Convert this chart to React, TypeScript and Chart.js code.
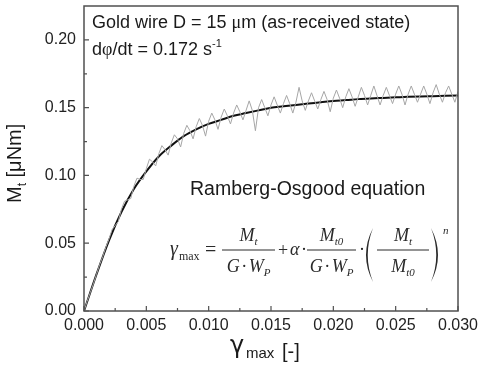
import React, { useEffect, useRef } from 'react';
import { Chart, registerables } from 'chart.js';

Chart.register(...registerables);

// Ramberg-Osgood fit (black curve)
const fitStrain = [0, 0.001, 0.002, 0.003, 0.004, 0.005, 0.006, 0.007, 0.008, 0.009, 0.01, 0.011, 0.012, 0.013, 0.014, 0.015, 0.016, 0.017, 0.018, 0.019, 0.02, 0.021, 0.022, 0.023, 0.024, 0.025, 0.026, 0.027, 0.028, 0.029, 0.03];
const fitTorque = [0, 0.027, 0.052, 0.073, 0.09, 0.103, 0.114, 0.122, 0.129, 0.134, 0.138, 0.141, 0.144, 0.146, 0.148, 0.15, 0.151, 0.152, 0.153, 0.154, 0.155, 0.1556, 0.1563, 0.1568, 0.1572, 0.1576, 0.158, 0.1583, 0.1585, 0.1587, 0.1589];

// measured (gray, noisy)
const measStrain = [0, 0.00025, 0.0005, 0.00075, 0.001, 0.00125, 0.0015, 0.00175, 0.002, 0.00225, 0.0025, 0.00275, 0.003, 0.00325, 0.0035, 0.00375, 0.004, 0.00425, 0.0045, 0.00475, 0.005, 0.00525, 0.0055, 0.00575, 0.006, 0.00625, 0.0065, 0.00675, 0.007, 0.00725, 0.0075, 0.00775, 0.008, 0.00825, 0.0085, 0.00875, 0.009, 0.00925, 0.0095, 0.00975, 0.01, 0.01025, 0.0105, 0.01075, 0.011, 0.01125, 0.0115, 0.01175, 0.012, 0.01225, 0.0125, 0.01275, 0.013, 0.01325, 0.0135, 0.01375, 0.014, 0.01425, 0.0145, 0.01475, 0.015, 0.01525, 0.0155, 0.01575, 0.016, 0.01625, 0.0165, 0.01675, 0.017, 0.01725, 0.0175, 0.01775, 0.018, 0.01825, 0.0185, 0.01875, 0.019, 0.01925, 0.0195, 0.01975, 0.02, 0.02025, 0.0205, 0.02075, 0.021, 0.02125, 0.0215, 0.02175, 0.022, 0.02225, 0.0225, 0.02275, 0.023, 0.02325, 0.0235, 0.02375, 0.024, 0.02425, 0.0245, 0.02475, 0.025, 0.02525, 0.0255, 0.02575, 0.026, 0.02625, 0.0265, 0.02675, 0.027, 0.02725, 0.0275, 0.02775, 0.028, 0.02825, 0.0285, 0.02875, 0.029, 0.02925, 0.0295, 0.02975, 0.03];
const measTorque = [0, 0.007, 0.0135, 0.02, 0.027, 0.034, 0.04, 0.047, 0.053, 0.06, 0.063, 0.066, 0.075, 0.081, 0.082, 0.083, 0.092, 0.098, 0.097, 0.097, 0.105, 0.112, 0.11, 0.107, 0.116, 0.122, 0.119, 0.115, 0.124, 0.13, 0.127, 0.121, 0.131, 0.137, 0.133, 0.127, 0.136, 0.142, 0.137, 0.129, 0.14, 0.146, 0.141, 0.134, 0.143, 0.149, 0.144, 0.138, 0.146, 0.152, 0.147, 0.141, 0.148, 0.155, 0.148, 0.133, 0.15, 0.156, 0.15, 0.144, 0.152, 0.158, 0.152, 0.146, 0.153, 0.159, 0.153, 0.146, 0.154, 0.165, 0.155, 0.148, 0.155, 0.161, 0.155, 0.149, 0.156, 0.162, 0.156, 0.147, 0.157, 0.163, 0.157, 0.15, 0.158, 0.164, 0.158, 0.151, 0.158, 0.165, 0.159, 0.152, 0.159, 0.166, 0.159, 0.152, 0.159, 0.165, 0.159, 0.153, 0.16, 0.166, 0.16, 0.152, 0.16, 0.166, 0.16, 0.154, 0.16, 0.166, 0.16, 0.153, 0.161, 0.167, 0.16, 0.154, 0.161, 0.166, 0.16, 0.154, 0.162];

const xTicks = [0, 0.005, 0.01, 0.015, 0.02, 0.025, 0.03];
const xMinorTicks = [0.0025, 0.0075, 0.0125, 0.0175, 0.0225, 0.0275];
const yTicks = [0, 0.05, 0.1, 0.15, 0.2];
const yMinorTicks = [0.025, 0.075, 0.125, 0.175];

const SANS = '"Liberation Sans", Arial, sans-serif';
const SERIF = '"Liberation Serif", "Times New Roman", serif';

type Part = { t: string; f: string; dy?: number; pad?: number };

function seq(ctx: CanvasRenderingContext2D, x: number, y: number, parts: Part[]) {
  let cx = x;
  for (const p of parts) {
    ctx.font = p.f;
    cx += p.pad || 0;
    ctx.fillText(p.t, cx, y + (p.dy || 0));
    cx += ctx.measureText(p.t).width + (p.pad || 0);
  }
  return cx;
}
function seqWidth(ctx: CanvasRenderingContext2D, parts: Part[]) {
  let w = 0;
  for (const p of parts) {
    ctx.font = p.f;
    w += ctx.measureText(p.t).width + 2 * (p.pad || 0);
  }
  return w;
}

const decor = {
  id: 'decor',
  afterDraw(chart: any) {
    const { ctx, chartArea: a, scales } = chart;
    const xs = scales.x;
    const ys = scales.y;
    ctx.save();
    // frame
    ctx.strokeStyle = '#505050';
    ctx.lineWidth = 1.5;
    ctx.strokeRect(a.left, a.top, a.right - a.left, a.bottom - a.top);
    // ticks (inside)
    ctx.lineWidth = 1.2;
    ctx.beginPath();
    for (const v of xTicks) {
      const p = xs.getPixelForValue(v);
      ctx.moveTo(p, a.bottom); ctx.lineTo(p, a.bottom - 5);
    }
    for (const v of xMinorTicks) {
      const p = xs.getPixelForValue(v);
      ctx.moveTo(p, a.bottom); ctx.lineTo(p, a.bottom - 3);
    }
    for (const v of yTicks) {
      const p = ys.getPixelForValue(v);
      ctx.moveTo(a.left, p); ctx.lineTo(a.left + 5, p);
    }
    for (const v of yMinorTicks) {
      const p = ys.getPixelForValue(v);
      ctx.moveTo(a.left, p); ctx.lineTo(a.left + 3, p);
    }
    ctx.stroke();

    // annotations
    ctx.fillStyle = '#1a1a1a';
    ctx.textBaseline = 'alphabetic';
    ctx.textAlign = 'left';
    const s18 = `18px ${SANS}`;
    const r18 = `18px ${SERIF}`;
    seq(ctx, 92, 28, [
      { t: 'Gold wire D = 15 ', f: s18 },
      { t: 'μ', f: r18 },
      { t: 'm (as-received state)', f: s18 },
    ]);
    seq(ctx, 92, 55, [
      { t: 'd', f: s18 },
      { t: 'φ', f: r18 },
      { t: '/dt = 0.172 s', f: s18 },
      { t: '-1', f: `11px ${SANS}`, dy: -8 },
    ]);
    ctx.font = `19.5px ${SANS}`;
    ctx.fillText('Ramberg-Osgood equation', 190, 195);

    // formula
    ctx.fillStyle = '#2a2a2a';
    ctx.strokeStyle = '#2a2a2a';
    const FI = `italic 18px ${SERIF}`;
    const FR = `18px ${SERIF}`;
    const SI = `italic 11px ${SERIF}`;
    const SR = `12px ${SERIF}`;
    const barY = 250;
    seq(ctx, 170, 255, [
      { t: 'γ', f: `italic 20px ${SERIF}` },
      { t: 'max', f: SR, dy: 5, pad: 1 },
    ]);
    ctx.font = `20px ${SERIF}`; ctx.fillText('=', 205, 256);
    const frac = (x1: number, x2: number, num: Part[], den: Part[]) => {
      ctx.lineWidth = 1;
      ctx.beginPath(); ctx.moveTo(x1, barY); ctx.lineTo(x2, barY); ctx.stroke();
      const c = (x1 + x2) / 2;
      seq(ctx, c - seqWidth(ctx, num) / 2, 241, num);
      seq(ctx, c - seqWidth(ctx, den) / 2, 272, den);
    };
    const Mt: Part[] = [{ t: 'M', f: FI }, { t: 't', f: SI, dy: 4 }];
    const Mt0: Part[] = [{ t: 'M', f: FI }, { t: 't0', f: SI, dy: 4 }];
    const GW: Part[] = [{ t: 'G', f: FI }, { t: '·', f: FR, pad: 1.5 }, { t: 'W', f: FI }, { t: 'P', f: SI, dy: 4 }];
    frac(222, 275, Mt, GW);
    ctx.font = FR; ctx.fillText('+', 278, 256);
    ctx.font = FI; ctx.fillText('α', 290, 255);
    ctx.font = FR; ctx.fillText('·', 301, 255);
    frac(307, 356, Mt0, GW);
    ctx.font = FR; ctx.fillText('·', 359, 255);
    // parentheses
    ctx.beginPath();
    ctx.moveTo(373, 228); ctx.quadraticCurveTo(359, 255, 373, 282);
    ctx.quadraticCurveTo(362.5, 255, 373, 228); ctx.fill();
    ctx.beginPath();
    ctx.moveTo(431, 228); ctx.quadraticCurveTo(445, 255, 431, 282);
    ctx.quadraticCurveTo(441.5, 255, 431, 228); ctx.fill();
    frac(377, 429, Mt, Mt0);
    ctx.font = SI; ctx.fillText('n', 443, 234);

    // axis titles
    ctx.fillStyle = '#1a1a1a';
    ctx.save();
    ctx.translate(21, 203);
    ctx.rotate(-Math.PI / 2);
    seq(ctx, 0, 0, [
      { t: 'M', f: `20px ${SANS}` },
      { t: 't', f: `12px ${SANS}`, dy: 5 },
      { t: ' [μNm]', f: `20px ${SANS}` },
    ]);
    ctx.restore();
    ctx.font = `24px "DejaVu Sans", ${SANS}`; ctx.fillText('γ', 230, 353);
    ctx.font = `15px ${SANS}`; ctx.fillText('max', 246, 358);
    ctx.font = `20px ${SANS}`; ctx.fillText('[-]', 282, 358);
    ctx.restore();
  },
};

export default function App() {
  const ref = useRef<HTMLCanvasElement | null>(null);
  useEffect(() => {
    if (!ref.current) return;
    const chart = new Chart(ref.current, {
      type: 'line',
      data: {
        datasets: [
          {
            label: 'measured',
            data: measStrain.map((x, i) => ({ x, y: measTorque[i] })),
            borderColor: '#a6a6a6',
            borderWidth: 1,
            pointRadius: 0,
            tension: 0,
          },
          {
            label: 'Ramberg-Osgood fit',
            data: fitStrain.map((x, i) => ({ x, y: fitTorque[i] })),
            borderColor: '#111111',
            borderWidth: 2,
            pointRadius: 0,
            cubicInterpolationMode: 'monotone',
          },
        ],
      },
      options: {
        animation: false,
        responsive: false,
        layout: { padding: { left: 0, right: 20, top: 6, bottom: 0 } },
        plugins: { legend: { display: false }, tooltip: { enabled: false } },
        scales: {
          x: {
            type: 'linear',
            min: 0,
            max: 0.03,
            grid: { display: false, drawTicks: false },
            border: { display: false },
            afterBuildTicks: (s: any) => { s.ticks = xTicks.map((v) => ({ value: v })); },
            afterFit: (s: any) => { s.height = 62; s.paddingLeft = 0; s.paddingRight = 0; },
            ticks: {
              padding: 5,
              maxRotation: 0,
              autoSkip: false,
              color: '#222',
              font: { family: SANS, size: 16 },
              callback: (v: any) => Number(v).toFixed(3),
            },
          },
          y: {
            type: 'linear',
            min: 0,
            max: 0.225,
            grid: { display: false, drawTicks: false },
            border: { display: false },
            afterBuildTicks: (s: any) => { s.ticks = yTicks.map((v) => ({ value: v })); },
            afterFit: (s: any) => { s.width = 84; s.paddingTop = 0; s.paddingBottom = 0; },
            ticks: {
              padding: 8,
              autoSkip: false,
              color: '#222',
              font: { family: SANS, size: 16 },
              callback: (v: any) => Number(v).toFixed(2),
            },
          },
        },
      },
      plugins: [decor],
    });
    return () => chart.destroy();
  }, []);
  return (
    <div style={{ position: 'fixed', left: 0, top: 0, width: 478, height: 373, background: '#fff' }}>
      <canvas ref={ref} width={478} height={373} style={{ display: 'block' }} />
    </div>
  );
}
